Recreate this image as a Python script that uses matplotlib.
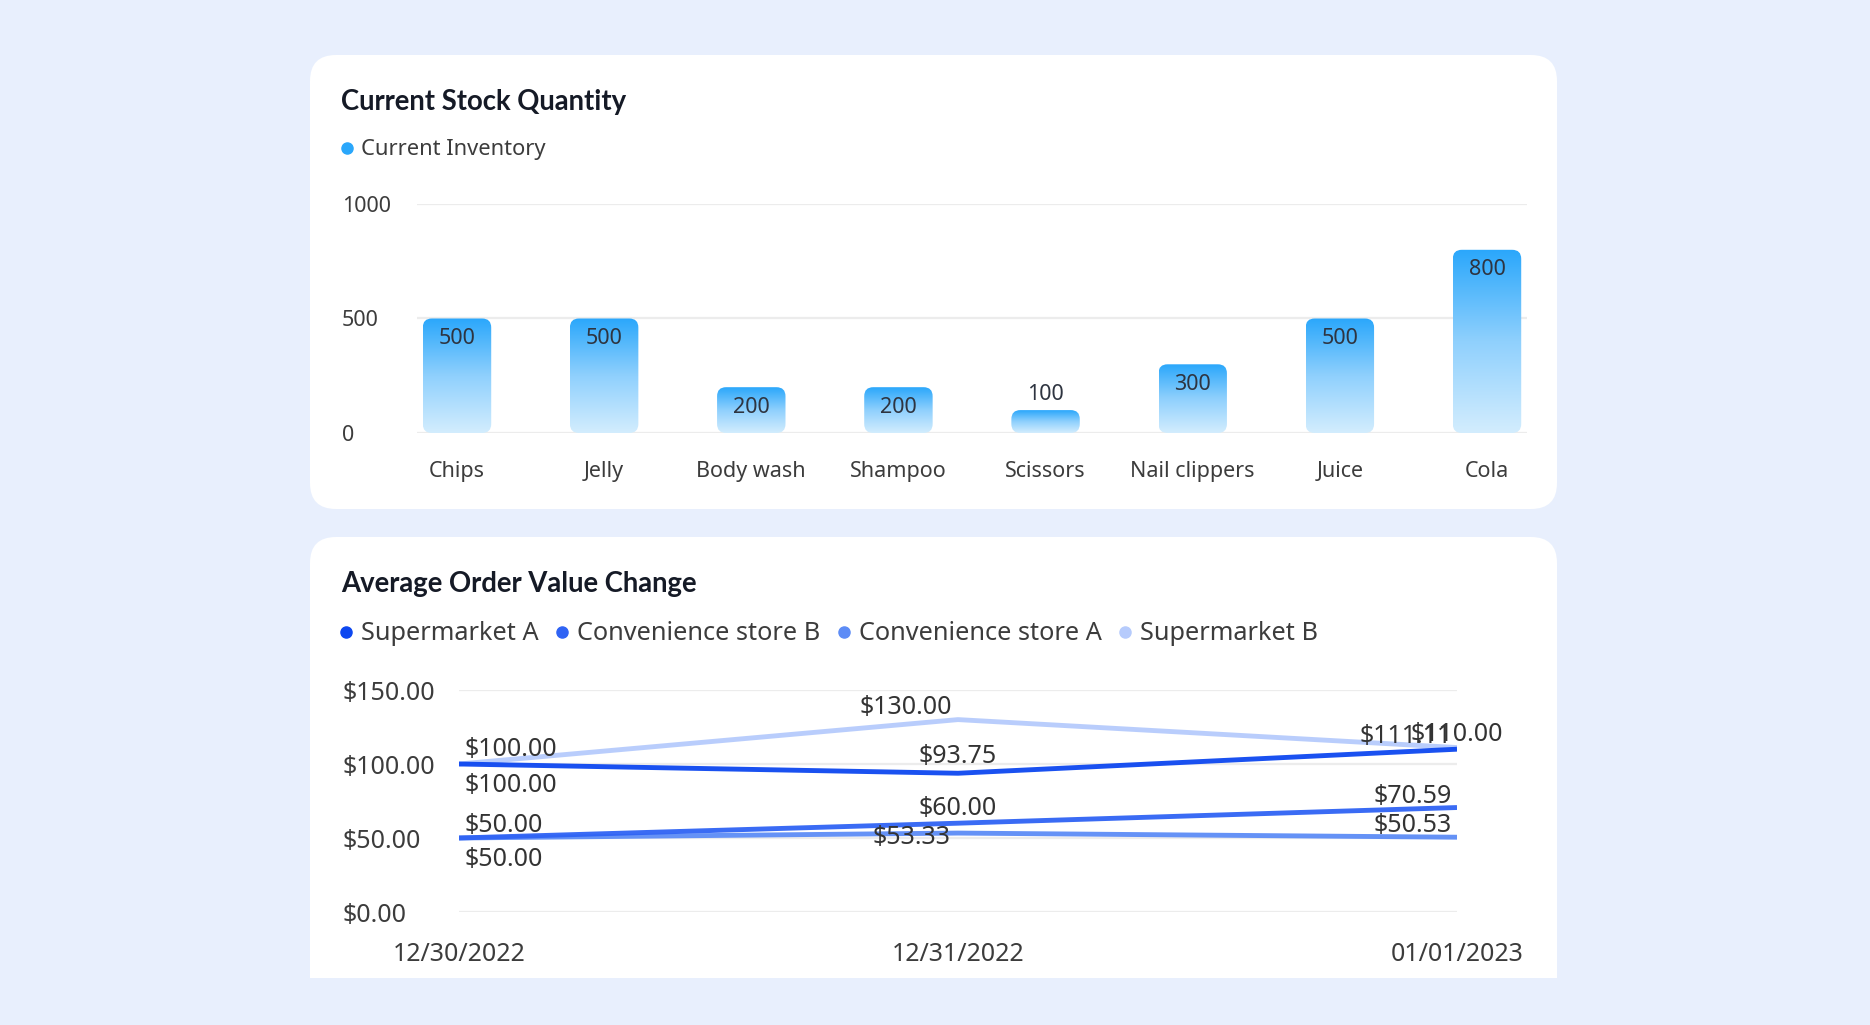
import numpy as np
import matplotlib
matplotlib.use("Agg")
import matplotlib.pyplot as plt
from matplotlib.patches import FancyBboxPatch, Rectangle
from matplotlib.lines import Line2D
from matplotlib.colors import LinearSegmentedColormap

plt.rcParams['font.family'] = ['Noto Sans', 'DejaVu Sans']

# data
products = ["Chips", "Jelly", "Body wash", "Shampoo", "Scissors", "Nail clippers", "Juice", "Cola"]
inventory = [500, 500, 200, 200, 100, 300, 500, 800]
inv_ticks = [0, 500, 1000]

dates = ["12/30/2022", "12/31/2022", "01/01/2023"]
stores = ["Supermarket A", "Convenience store B", "Convenience store A", "Supermarket B"]
super_a = [100.00, 93.75, 110.00]
conv_b = [50.00, 60.00, 70.59]
conv_a = [50.00, 53.33, 50.53]
super_b = [100.00, 130.00, 111.11]
aov_ticks = [0, 50, 100, 150]

W, H = 1870, 1025
BG = "#e8effd"
fig = plt.figure(figsize=(W / 100, H / 100), dpi=100, facecolor=BG)


def fx(px):
    return px / W


def fy(py):
    return 1 - py / H


def card(x0, y0, x1, y1, flat_bottom=False):
    r = 26 / W
    p = FancyBboxPatch((fx(x0), fy(y1)), fx(x1 - x0), (y1 - y0) / H,
                       boxstyle="round,pad=0,rounding_size=%f" % r,
                       mutation_aspect=W / H, transform=fig.transFigure,
                       facecolor="white", edgecolor="none", zorder=0)
    fig.add_artist(p)
    if flat_bottom:
        fig.add_artist(Rectangle((fx(x0), fy(y1)), fx(x1 - x0), 40 / H,
                                 transform=fig.transFigure, facecolor="white",
                                 edgecolor="none", zorder=0))


card(310, 55, 1557, 509)
card(310, 537, 1557, 978, flat_bottom=True)

TITLE_C = "#151a26"
TEXT_C = "#3c3c3c"
GRID_C = "#ececec"
TITLE_FONT = ["Lato", "DejaVu Sans"]

# ---------- card 1: stock bar chart ----------
fig.text(fx(341), fy(102), "Current Stock Quantity", fontsize=19.8, fontweight="bold",
         family=TITLE_FONT, color=TITLE_C, va="center", ha="left")
bar_top = "#2aa7fb"
fig.legend(handles=[Line2D([0], [0], marker="o", ls="none", color=bar_top, markersize=8)],
           labels=["Current Inventory"], loc="center left",
           bbox_to_anchor=(fx(340), fy(150)), frameon=False, fontsize=15.8,
           handlelength=0.6, handletextpad=0.35, borderpad=0, borderaxespad=0,
           labelcolor=TEXT_C)

ax1 = fig.add_axes([fx(417), fy(433), fx(1527 - 417), (433 - 204) / H])
ax1.set_facecolor("none")
n = len(products)
xpos = np.arange(n)
left = -(457 - 417) / 147.14

cmap = LinearSegmentedColormap.from_list("bar", ["#d3edfe", "#8fd0fd", bar_top])
grad = np.linspace(0, 1, 256).reshape(-1, 1)
bw = 0.465
px_x = (n - 1 - 2 * left) / (1527 - 417)
px_y = 1000 / (433 - 204)
for x, v in zip(xpos, inventory):
    clip = FancyBboxPatch((x - bw / 2, 0), bw, v,
                          boxstyle="round,pad=0,rounding_size=%f" % (9 * px_x),
                          mutation_aspect=px_y / px_x, facecolor="none", edgecolor="none")
    ax1.add_patch(clip)
    im = ax1.imshow(grad, cmap=cmap, origin="lower", aspect="auto",
                    extent=(x - bw / 2, x + bw / 2, 0, v), zorder=2)
    im.set_clip_path(clip)
    dy = -20 if v >= 150 else 16
    ax1.annotate(str(v), (x, v), xytext=(0, dy), textcoords="offset pixels",
                 ha="center", va="center", fontsize=15.5, color="#2e3440", zorder=3)
ax1.set_xlim(left, n - 1 - left)
ax1.set_ylim(0, 1000)
ax1.set_xticks(xpos)
ax1.set_xticklabels(products, fontsize=15.5, color=TEXT_C)
ax1.set_yticks(inv_ticks)
ax1.set_yticklabels([str(t) for t in inv_ticks], fontsize=15.5, color=TEXT_C, ha="left")
ax1.tick_params(axis="y", length=0, pad=75 * 0.72)
ax1.tick_params(axis="x", length=0, pad=28 * 0.72)
ax1.grid(axis="y", color=GRID_C, lw=1.6)
ax1.set_axisbelow(True)
for s in ax1.spines.values():
    s.set_visible(False)

# ---------- card 2: average order value lines ----------
fig.text(fx(341), fy(584), "Average Order Value Change", fontsize=19.8, fontweight="bold",
         family=TITLE_FONT, color=TITLE_C, va="center", ha="left")
colors = ["#0d47f0", "#2f63f4", "#5d8cf6", "#b6cbfc"]
series = [super_a, conv_b, conv_a, super_b]
handles = [Line2D([0], [0], marker="o", ls="none", color=c, markersize=8) for c in colors]
fig.legend(handles=handles, labels=stores, loc="center left", ncol=4,
           bbox_to_anchor=(fx(340), fy(634)), frameon=False, fontsize=18.2,
           handlelength=0.5, handletextpad=0.35, columnspacing=0.66,
           borderpad=0, borderaxespad=0, labelcolor=TEXT_C)

ax2 = fig.add_axes([fx(459), fy(912), fx(1457 - 459), (912 - 690) / H])
ax2.set_facecolor("none")
xd = np.arange(len(dates))
for vals, c, z in zip(series, colors, [5, 4, 3, 2]):
    ax2.plot(xd, vals, color=c, lw=3.5, alpha=0.95, zorder=z, solid_capstyle="butt")

# label placement per series/point: (dx px, dy px, ha)
label_pos = [
    [(5, -22, "left"), (0, 17, "center"), (0, 15, "center")],
    [(5, 13, "left"), (0, 15, "center"), (-5, 11, "right")],
    [(5, -21, "left"), (-46, -4, "center"), (-5, 12, "right")],
    [(5, 14, "left"), (-52, 12, "center"), (-5, 11, "right")],
]
for vals, pos in zip(series, label_pos):
    for x, v, (dx, dy, ha) in zip(xd, vals, pos):
        ax2.annotate("$%.2f" % v, (x, v), xytext=(dx, dy), textcoords="offset pixels",
                     ha=ha, va="center", fontsize=18, color="#333333", zorder=6)

ax2.set_xlim(0, len(dates) - 1)
ax2.set_ylim(0, 150)
ax2.set_xticks(xd)
ax2.set_xticklabels(dates, fontsize=18, color=TEXT_C)
ax2.set_yticks(aov_ticks)
ax2.set_yticklabels(["$%.2f" % t for t in aov_ticks], fontsize=18, color=TEXT_C, ha="left")
ax2.tick_params(axis="y", length=0, pad=117 * 0.72)
ax2.tick_params(axis="x", length=0, pad=30 * 0.72)
ax2.grid(axis="y", color=GRID_C, lw=1.6)
ax2.set_axisbelow(True)
for s in ax2.spines.values():
    s.set_visible(False)

fig.savefig("out.png", dpi=100, facecolor=BG)
